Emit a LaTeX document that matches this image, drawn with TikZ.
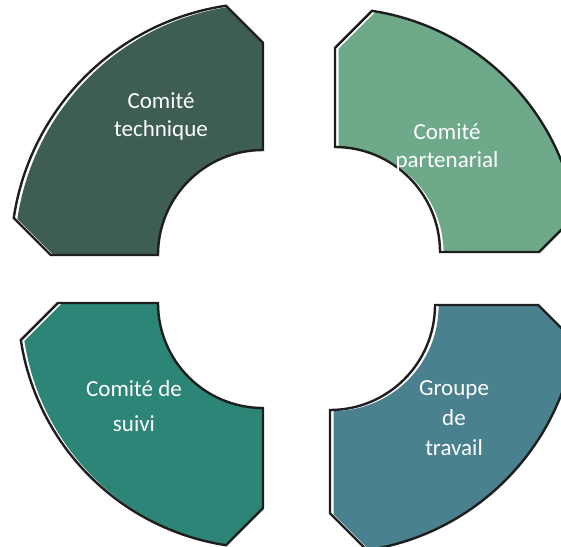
\documentclass[tikz,border=0pt]{standalone}
\usepackage{fontspec}
\setmainfont{Carlito}
\definecolor{cTL}{HTML}{3E5E51}
\definecolor{cTR}{HTML}{6EA98A}
\definecolor{cBL}{HTML}{2D8577}
\definecolor{cBR}{HTML}{4A818E}
\definecolor{edge}{HTML}{1E1E1E}
\def\Ee{37}
\def\Ri{105}
\tikzset{
  petal/.style={insert path={(0,\Ri) -- (0,\Dd) -- (90+\Ang:\Ro)
      arc[start angle={90+\Ang}, end angle={180-\Ang}, radius=\Ro]
      -- (-\Dd,0) -- (-\Ri,0) arc[start angle=180, end angle=90, radius=\Ri] -- cycle}},
  outline/.style={draw=edge, line width=2.4pt, line join=miter},
  lbl/.style={text=white, align=center, inner sep=0pt},
}
\newcommand{\petalshape}[6]{%
  \begin{scope}[shift={(#1,#2)},xscale=#3,yscale=#4]
    \pgfmathsetmacro\Ro{#5}
    \pgfmathsetmacro\Ang{asin(\Ee/\Ro)}
    \pgfmathsetmacro\Dd{\Ro*cos(\Ang)-\Ee}
    \fill[white,petal];
    \begin{scope}
      \clip[petal];
      \fill[#6,shift={(3.6*#3,-1.0*#4)},petal];
    \end{scope}
    \draw[outline,petal];
  \end{scope}}
\begin{document}
\begin{tikzpicture}[x=1pt,y=1pt]
  \useasboundingbox (0,0) rectangle (561,-546);
  \clip (0,0) rectangle (561,-546);
  \petalshape{263}{-255}{1}{1}{252}{cTL}
  \petalshape{335}{-252}{-1}{1}{244}{cTR}
  \petalshape{263}{-303}{1}{-1}{245}{cBL}
  \petalshape{330}{-305}{-1}{-1}{248}{cBR}
  \node[lbl, font=\fontsize{23}{28}\selectfont] (tl) at (161,-116) {Comité\\technique};
  \node[lbl, font=\fontsize{23}{28}\selectfont] (tr) at (447,-147) {Comité\\partenarial};
  \node[lbl, font=\fontsize{23}{35}\selectfont] (bl) at (134,-406) {Comité de\\suivi};
  \node[lbl, font=\fontsize{23}{30}\selectfont] (br) at (454,-418) {Groupe\\de\\travail};
\end{tikzpicture}
\end{document}
